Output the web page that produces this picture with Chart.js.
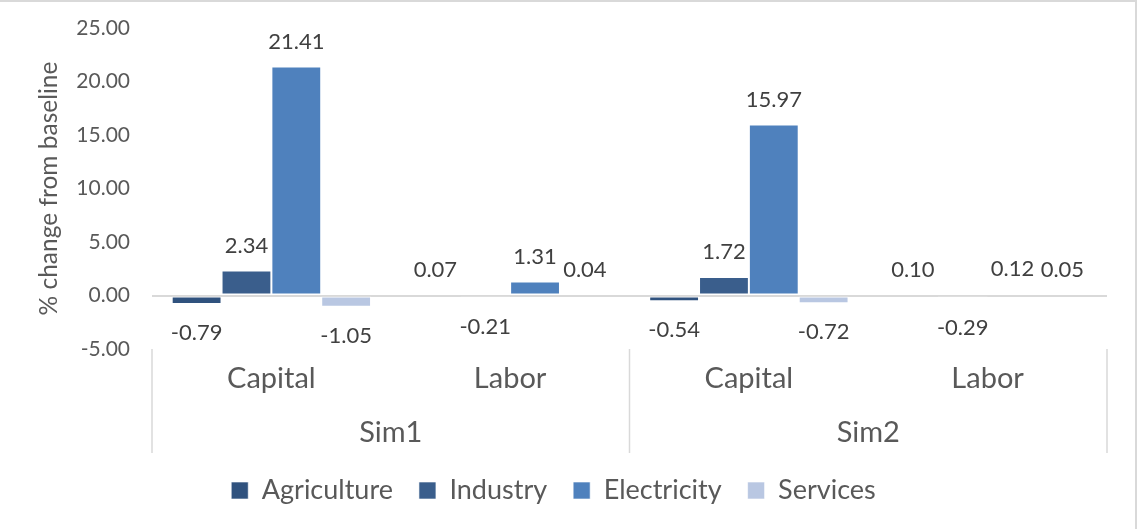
<!DOCTYPE html>
<html>
<head>
<meta charset="utf-8">
<script src="https://cdn.jsdelivr.net/npm/chart.js@4.4.1/dist/chart.umd.min.js"></script>
<style>
  html, body { margin: 0; padding: 0; background: #fff; }
  #wrap { position: relative; width: 1137px; height: 529px; box-sizing: border-box;
          border-top: 2px solid #d9d9d9; border-right: 2px solid #d9d9d9; }
</style>
</head>
<body>
<div id="wrap"><canvas id="chart"></canvas></div>
<script>
// factor groups along the x axis, and the simulation each one belongs to
const factors = ['Capital', 'Labor', 'Capital', 'Labor'];
const sims = ['Sim1', 'Sim2'];

// % change from baseline, one value per factor group
const agriculture = [-0.79, 0.07, -0.54, 0.10];
const industry    = [2.34, -0.21, 1.72, -0.29];
const electricity = [21.41, 1.31, 15.97, 0.12];
const services    = [-1.05, 0.04, -0.72, 0.05];

const yTicks = [-5, 0, 5, 10, 15, 20, 25];

const textColor = '#595959';
const fontFamily = 'Lato, "Open Sans", sans-serif';

// value labels above positive bars and below negative ones
const valueLabels = {
  id: 'valueLabels',
  afterDatasetsDraw(chart) {
    const ctx = chart.ctx;
    ctx.save();
    ctx.font = '22px ' + fontFamily;
    ctx.fillStyle = '#404040';
    ctx.textAlign = 'center';
    ctx.textBaseline = 'middle';
    chart.data.datasets.forEach((ds, i) => {
      const meta = chart.getDatasetMeta(i);
      meta.data.forEach((bar, j) => {
        const v = ds.data[j];
        const y = v >= 0 ? bar.y - 25 : bar.y + 29;
        ctx.fillText(v.toFixed(2), bar.x, y);
      });
    });
    ctx.restore();
  }
};

// vertical separators between the Sim groups under the plot
const groupLines = {
  id: 'groupLines',
  afterDraw(chart) {
    const x = chart.scales.x;
    const ctx = chart.ctx;
    const mid = (x.getPixelForValue(1) + x.getPixelForValue(2)) / 2;
    const top = chart.chartArea.bottom;
    ctx.save();
    ctx.strokeStyle = '#d9d9d9';
    ctx.lineWidth = 1.5;
    [x.left, mid, x.right].forEach(px => {
      ctx.beginPath();
      ctx.moveTo(px, top);
      ctx.lineTo(px, top + 104);
      ctx.stroke();
    });
    ctx.restore();
  }
};

const ctx = document.getElementById('chart').getContext('2d');
new Chart(ctx, {
  type: 'bar',
  data: {
    labels: factors,
    datasets: [
      { label: 'Agriculture', data: agriculture, backgroundColor: '#30527e' },
      { label: 'Industry', data: industry, backgroundColor: '#3a5e8c' },
      { label: 'Electricity', data: electricity, backgroundColor: '#4f81bd' },
      { label: 'Services', data: services, backgroundColor: '#b9c7e2' }
    ]
  },
  options: {
    responsive: true,
    maintainAspectRatio: false,
    animation: false,
    datasets: {
      bar: {
        categoryPercentage: 0.835,
        barPercentage: 1.0,
        borderColor: 'rgba(255,255,255,0.6)',
        borderWidth: 1,
        borderSkipped: false
      }
    },
    layout: { padding: { top: 26, right: 28, left: 0, bottom: 15 } },
    plugins: {
      legend: {
        position: 'bottom',
        labels: {
          color: textColor,
          font: { family: fontFamily, size: 27 },
          boxWidth: 17,
          boxHeight: 17,
          padding: 26
        }
      },
      tooltip: { enabled: false }
    },
    scales: {
      x: {
        grid: { display: false },
        border: { display: false },
        afterFit(scale) { scale.height = 61; },
        ticks: {
          color: textColor,
          font: { family: fontFamily, size: 29 },
          padding: 4
        }
      },
      x2: {
        type: 'category',
        labels: sims,
        position: 'bottom',
        offset: true,
        grid: { display: false, drawTicks: false },
        border: { display: false },
        afterFit(scale) { scale.height = 41; },
        ticks: {
          color: textColor,
          font: { family: fontFamily, size: 29 },
          padding: 5
        }
      },
      y: {
        min: -5,
        max: 25,
        afterBuildTicks(scale) {
          scale.ticks = yTicks.map(v => ({ value: v }));
        },
        afterFit(scale) {
          scale.width = 152;
          scale.paddingTop = 0;
          scale.paddingBottom = 0;
        },
        border: { display: false },
        grid: {
          drawTicks: false,
          color: c => (c.tick && c.tick.value === 0 ? '#d9d9d9' : 'rgba(0,0,0,0)'),
          lineWidth: 2
        },
        ticks: {
          color: textColor,
          font: { family: fontFamily, size: 21 },
          padding: 22,
          callback: v => Number(v).toFixed(2)
        },
        title: {
          display: true,
          text: '% change from baseline',
          color: textColor,
          font: { family: fontFamily, size: 24.5 },
          padding: { top: 34, bottom: 0 }
        }
      }
    }
  },
  plugins: [valueLabels, groupLines]
});
</script>
</body>
</html>
